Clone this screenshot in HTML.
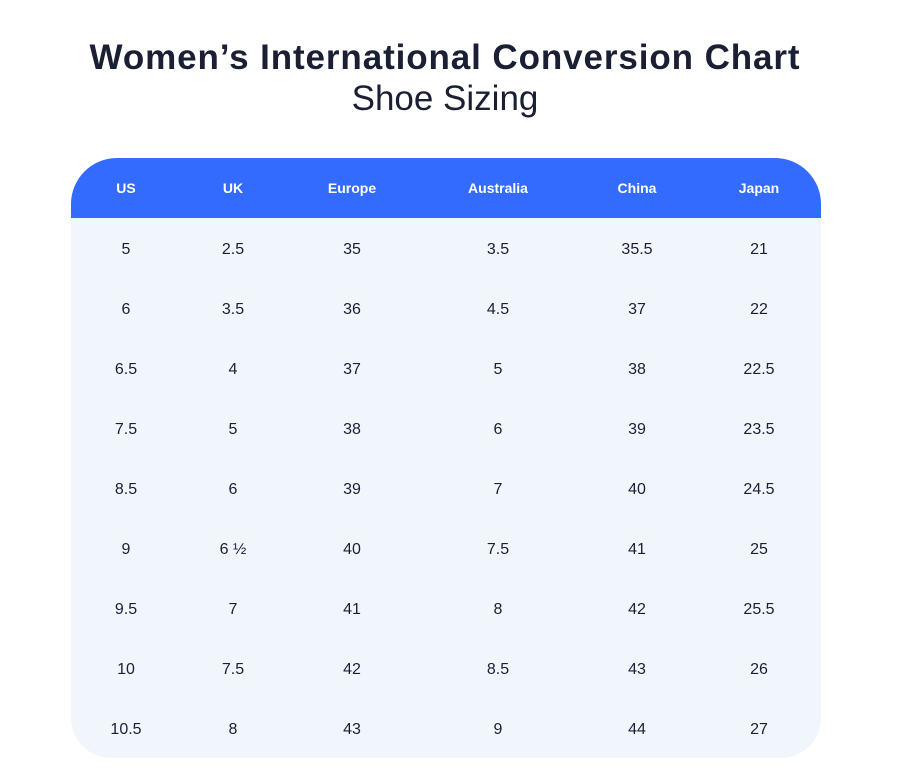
<!DOCTYPE html>
<html><head><meta charset="utf-8"><style>
body{margin:0;width:915px;height:777px;background:#fff;font-family:"Liberation Sans","DejaVu Sans",sans-serif;color:#1b1f33;position:relative;overflow:hidden}
.t1{position:absolute;left:0;width:890px;top:36px;text-align:center;font-size:35px;font-weight:bold;line-height:44px;letter-spacing:0.9px}
.t2{position:absolute;left:0;width:890px;top:77px;text-align:center;font-size:35px;font-weight:300;line-height:44px}
.tbl{position:absolute;left:71px;top:158px;width:750px;height:600px;background:#f1f6fd;border-radius:46px 46px 40px 40px;overflow:hidden}
.hd{position:absolute;left:0;top:0;width:750px;height:60px;background:#336bff}
.c{position:absolute;width:120px;margin-left:-60px;text-align:center;font-size:16px;line-height:20px}
.h{color:#fff;font-weight:bold;font-size:14px}
</style></head><body>
<div class="t1">Women’s International Conversion Chart</div>
<div class="t2">Shoe Sizing</div>
<div class="tbl"><div class="hd"></div><div id="g"></div></div>
<script>
var cols=[55,162,281,427,566,688];
var rows=[["US","UK","Europe","Australia","China","Japan"],
["5","2.5","35","3.5","35.5","21"],["6","3.5","36","4.5","37","22"],["6.5","4","37","5","38","22.5"],
["7.5","5","38","6","39","23.5"],["8.5","6","39","7","40","24.5"],["9","6 ½","40","7.5","41","25"],
["9.5","7","41","8","42","25.5"],["10","7.5","42","8.5","43","26"],["10.5","8","43","9","44","27"]];
var h="";rows.forEach(function(r,i){r.forEach(function(v,j){h+='<div class="c'+(i==0?' h':'')+'" style="left:'+cols[j]+'px;top:'+(i==0?20:22+i*60)+'px">'+v+'</div>';});});
document.getElementById("g").innerHTML=h;
</script>
</body></html>
